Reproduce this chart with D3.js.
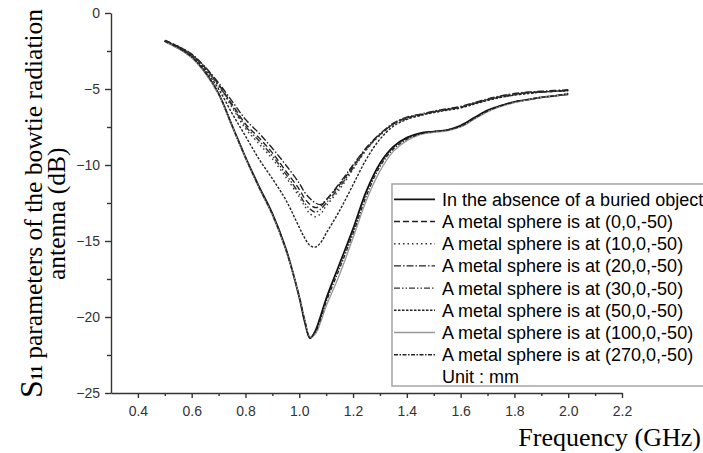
<!DOCTYPE html>
<html lang="en">
<head>
<meta charset="UTF-8">
<title>S11 of the bowtie antenna</title>
<style>
  body { margin: 0; background: #fff; }
  svg { display: block; }
  .tick text { font-family: "Liberation Sans", Arial, sans-serif; font-size: 14px; fill: #333; }
  .axis path, .axis line { stroke: #333; stroke-width: 1.4; }
</style>
</head>
<body>
<div id="chart"></div>
<script src="https://d3js.org/d3.v7.min.js"></script>
<script>
// frequency samples (GHz)
const freq = [0.5, 0.55, 0.6, 0.65, 0.7, 0.75, 0.8, 0.85, 0.9, 0.95, 1.0, 1.02, 1.04, 1.06, 1.08, 1.1,
  1.15, 1.2, 1.25, 1.3, 1.35, 1.4, 1.45, 1.5, 1.55, 1.6, 1.65, 1.7, 1.75, 1.8, 1.85, 1.9, 1.95, 2.0];

// S11 (dB)
const absence = [-1.85, -2.3, -2.9, -3.9, -5.3, -7.4, -9.5, -11.4, -13.2, -15.5, -18.7, -20.3, -21.4, -20.9, -19.9, -18.8,
  -16.5, -14.2, -11.7, -9.9, -8.8, -8.2, -7.9, -7.8, -7.7, -7.4, -6.9, -6.4, -6.1, -5.85, -5.7, -5.55, -5.45, -5.35];
const at0 = [-1.8, -2.2, -2.75, -3.6, -4.7, -6.0, -7.3, -8.2, -9.2, -10.4, -11.6, -12.2, -12.6, -12.8, -12.7, -12.3,
  -11.3, -10.1, -8.9, -8.0, -7.3, -6.9, -6.7, -6.5, -6.35, -6.2, -5.95, -5.7, -5.5, -5.35, -5.25, -5.2, -5.15, -5.1];
const at10 = [-1.85, -2.25, -2.8, -3.65, -4.8, -6.2, -7.6, -8.6, -9.6, -10.8, -12.1, -12.7, -13.2, -13.4, -13.2, -12.7,
  -11.6, -10.3, -9.0, -8.05, -7.35, -6.95, -6.7, -6.5, -6.35, -6.2, -5.95, -5.75, -5.55, -5.4, -5.3, -5.2, -5.15, -5.1];
const at20 = [-1.8, -2.2, -2.7, -3.55, -4.6, -5.8, -7.0, -7.9, -8.9, -10.0, -11.2, -11.8, -12.2, -12.5, -12.6, -12.3,
  -11.2, -10.0, -8.85, -7.95, -7.25, -6.85, -6.65, -6.45, -6.3, -6.15, -5.9, -5.65, -5.45, -5.3, -5.2, -5.15, -5.1, -5.05];
const at30 = [-1.85, -2.25, -2.75, -3.6, -4.75, -6.1, -7.45, -8.4, -9.4, -10.6, -11.9, -12.5, -12.9, -13.1, -12.9, -12.5,
  -11.45, -10.2, -8.95, -8.0, -7.3, -6.9, -6.7, -6.5, -6.35, -6.2, -5.95, -5.7, -5.5, -5.35, -5.25, -5.2, -5.15, -5.1];
const at50 = [-1.85, -2.25, -2.85, -3.75, -5.0, -6.6, -8.1, -9.6, -10.9, -12.3, -14.1, -14.8, -15.3, -15.4, -15.1, -14.5,
  -13.0, -11.3, -9.6, -8.3, -7.45, -7.0, -6.75, -6.55, -6.4, -6.25, -6.0, -5.75, -5.55, -5.4, -5.3, -5.2, -5.15, -5.1];
const at100 = [-1.9, -2.35, -2.95, -3.95, -5.35, -7.45, -9.55, -11.5, -13.3, -15.6, -18.6, -20.1, -21.3, -21.1, -20.3, -19.3,
  -17.2, -14.8, -12.3, -10.4, -9.1, -8.4, -8.0, -7.85, -7.75, -7.5, -7.0, -6.5, -6.15, -5.9, -5.7, -5.55, -5.45, -5.3];
const at270 = [-1.85, -2.3, -2.9, -3.9, -5.3, -7.4, -9.5, -11.45, -13.25, -15.55, -18.65, -20.2, -21.35, -21.0, -20.1, -19.0,
  -16.8, -14.5, -12.0, -10.1, -8.95, -8.3, -7.95, -7.8, -7.7, -7.45, -6.95, -6.45, -6.1, -5.85, -5.7, -5.55, -5.45, -5.3];

const seriesNames = [
  "In the absence of a buried object",
  "A metal sphere is at (0,0,-50)",
  "A metal sphere is at (10,0,-50)",
  "A metal sphere is at (20,0,-50)",
  "A metal sphere is at (30,0,-50)",
  "A metal sphere is at (50,0,-50)",
  "A metal sphere is at (100,0,-50)",
  "A metal sphere is at (270,0,-50)"
];
const seriesValues = [absence, at0, at10, at20, at30, at50, at100, at270];
const xTicks = [0.4, 0.6, 0.8, 1.0, 1.2, 1.4, 1.6, 1.8, 2.0, 2.2];
const yTicks = [0, -5, -10, -15, -20, -25];

// line styles, in legend order
const dashes = ["none", "6,3", "1.5,3", "7,2,1.5,2", "6,2,1.5,2,1.5,2", "2.5,1.5", "none", "4,1.5,1.5,1.5"];
const colors = ["#111", "#222", "#333", "#222", "#333", "#222", "#999", "#222"];
const widths = [1.8, 1.4, 1.4, 1.4, 1.4, 1.4, 1.3, 1.4];

const width = 703, height = 453;

const svg = d3.select("#chart").append("svg")
  .attr("width", width)
  .attr("height", height);

const x = d3.scaleLinear().domain([0.3, 2.2]).range([111, 622]);
const y = d3.scaleLinear().domain([-25, 0]).range([393, 13]);

// minor ticks
svg.append("g").attr("class", "axis")
  .attr("transform", `translate(0,${y(-25)})`)
  .call(d3.axisBottom(x).tickValues(d3.range(0.5, 2.2, 0.2)).tickSize(3).tickFormat(""))
  .select(".domain").remove();
svg.append("g").attr("class", "axis")
  .attr("transform", `translate(${x(0.3)},0)`)
  .call(d3.axisLeft(y).tickValues(d3.range(-22.5, 0, 5)).tickSize(4).tickFormat(""))
  .select(".domain").remove();

// major axes
svg.append("g").attr("class", "axis")
  .attr("transform", `translate(0,${y(-25)})`)
  .call(d3.axisBottom(x).tickValues(xTicks).tickSize(5).tickSizeOuter(0).tickPadding(8).tickFormat(d3.format(".1f")));
svg.append("g").attr("class", "axis")
  .attr("transform", `translate(${x(0.3)},0)`)
  .call(d3.axisLeft(y).tickValues(yTicks).tickSize(6).tickSizeOuter(0).tickPadding(5).tickFormat(d3.format("d")));

// curves
const line = d3.line()
  .x((d, i) => x(freq[i]))
  .y(d => y(d))
  .curve(d3.curveCatmullRom.alpha(0.5));

svg.append("g").selectAll("path")
  .data(seriesValues)
  .join("path")
  .attr("d", d => line(d))
  .attr("fill", "none")
  .attr("stroke", (d, i) => colors[i])
  .attr("stroke-width", (d, i) => widths[i])
  .attr("stroke-dasharray", (d, i) => dashes[i]);

// legend
const legend = svg.append("g").attr("transform", "translate(392,184)");
legend.append("rect")
  .attr("width", 330).attr("height", 202)
  .attr("fill", "#fff")
  .attr("stroke", "#aaa")
  .attr("stroke-width", 1.6);

const rows = legend.selectAll("g.row")
  .data(seriesNames)
  .join("g")
  .attr("class", "row")
  .attr("transform", (d, i) => `translate(0,${15.3 + i * 22.2})`);

rows.append("line")
  .attr("x1", 2).attr("x2", 43)
  .attr("stroke", (d, i) => colors[i])
  .attr("stroke-width", (d, i) => widths[i])
  .attr("stroke-dasharray", (d, i) => dashes[i]);

rows.append("text")
  .attr("x", 50)
  .attr("dy", "0.36em")
  .style("font-family", "'Liberation Sans', Arial, sans-serif")
  .style("font-size", "18px")
  .text(d => d);

legend.append("text")
  .attr("x", 50)
  .attr("y", 15.3 + 8 * 22.2)
  .attr("dy", "0.36em")
  .style("font-family", "'Liberation Sans', Arial, sans-serif")
  .style("font-size", "18px")
  .text("Unit : mm");

// axis titles
svg.append("text")
  .attr("x", 701).attr("y", 446)
  .attr("text-anchor", "end")
  .style("font-family", "'Liberation Serif', 'Times New Roman', serif")
  .style("font-size", "26px")
  .text("Frequency (GHz)");

const yTitle = svg.append("text")
  .attr("transform", "translate(42,398) rotate(-90)")
  .style("font-family", "'Liberation Serif', 'Times New Roman', serif")
  .style("font-size", "25.5px");
yTitle.append("tspan").style("font-size", "32px").text("S");
yTitle.append("tspan").style("font-size", "16px").style("font-weight", "bold").text("11");
yTitle.append("tspan").text(" parameters of the bowtie radiation");

svg.append("text")
  .attr("transform", "translate(65,280) rotate(-90)")
  .style("font-family", "'Liberation Serif', 'Times New Roman', serif")
  .style("font-size", "25.5px")
  .text("antenna (dB)");
</script>
</body>
</html>
